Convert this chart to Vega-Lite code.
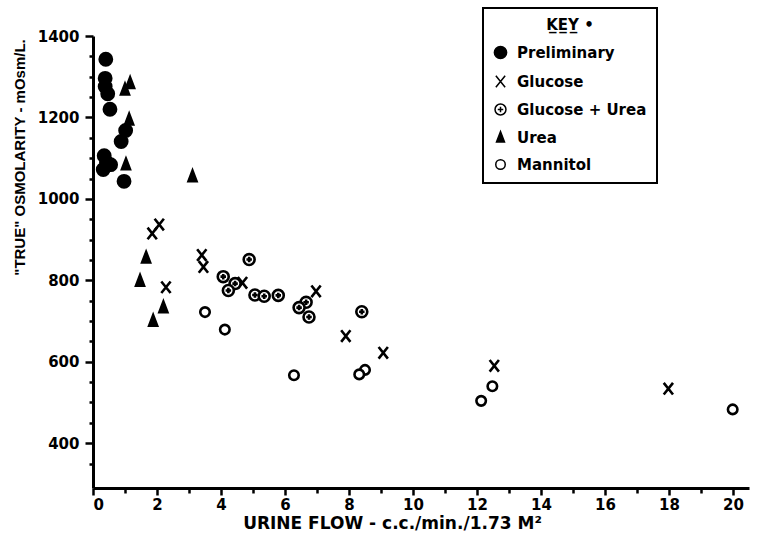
{
  "$schema": "https://vega.github.io/schema/vega-lite/v6.json",
  "width": 656,
  "height": 452,
  "autosize": "none",
  "padding": {"left": 93, "top": 36, "right": 9, "bottom": 57},
  "background": "white",
  "data": {
    "values": [
      {"series": "Preliminary", "flow": 0.40, "osm": 1343},
      {"series": "Preliminary", "flow": 0.38, "osm": 1296},
      {"series": "Preliminary", "flow": 0.38, "osm": 1276},
      {"series": "Preliminary", "flow": 0.46, "osm": 1258},
      {"series": "Preliminary", "flow": 0.53, "osm": 1220},
      {"series": "Preliminary", "flow": 0.88, "osm": 1141},
      {"series": "Preliminary", "flow": 1.02, "osm": 1168},
      {"series": "Preliminary", "flow": 0.35, "osm": 1106},
      {"series": "Preliminary", "flow": 0.32, "osm": 1072},
      {"series": "Preliminary", "flow": 0.55, "osm": 1084},
      {"series": "Preliminary", "flow": 0.42, "osm": 1090},
      {"series": "Preliminary", "flow": 0.97, "osm": 1043},
      {"series": "Glucose", "flow": 2.07, "osm": 937},
      {"series": "Glucose", "flow": 1.85, "osm": 915},
      {"series": "Glucose", "flow": 2.28, "osm": 783},
      {"series": "Glucose", "flow": 3.40, "osm": 862},
      {"series": "Glucose", "flow": 3.45, "osm": 833},
      {"series": "Glucose", "flow": 4.67, "osm": 794},
      {"series": "Glucose", "flow": 6.97, "osm": 773},
      {"series": "Glucose", "flow": 7.90, "osm": 663},
      {"series": "Glucose", "flow": 9.07, "osm": 622},
      {"series": "Glucose", "flow": 12.54, "osm": 590},
      {"series": "Glucose", "flow": 17.98, "osm": 534},
      {"series": "Glucose + Urea", "flow": 4.88, "osm": 851},
      {"series": "Glucose + Urea", "flow": 4.07, "osm": 809},
      {"series": "Glucose + Urea", "flow": 4.44, "osm": 792},
      {"series": "Glucose + Urea", "flow": 4.23, "osm": 775},
      {"series": "Glucose + Urea", "flow": 5.06, "osm": 764},
      {"series": "Glucose + Urea", "flow": 5.35, "osm": 761},
      {"series": "Glucose + Urea", "flow": 5.79, "osm": 763},
      {"series": "Glucose + Urea", "flow": 6.66, "osm": 746},
      {"series": "Glucose + Urea", "flow": 6.44, "osm": 733},
      {"series": "Glucose + Urea", "flow": 6.75, "osm": 710},
      {"series": "Glucose + Urea", "flow": 8.40, "osm": 723},
      {"series": "Urea", "flow": 1.16, "osm": 1284},
      {"series": "Urea", "flow": 1.00, "osm": 1268},
      {"series": "Urea", "flow": 1.13, "osm": 1194},
      {"series": "Urea", "flow": 1.03, "osm": 1084},
      {"series": "Urea", "flow": 3.11, "osm": 1055},
      {"series": "Urea", "flow": 1.66, "osm": 855},
      {"series": "Urea", "flow": 1.47, "osm": 798},
      {"series": "Urea", "flow": 2.20, "osm": 733},
      {"series": "Urea", "flow": 1.88, "osm": 700},
      {"series": "Mannitol", "flow": 3.50, "osm": 722},
      {"series": "Mannitol", "flow": 4.12, "osm": 679},
      {"series": "Mannitol", "flow": 6.28, "osm": 567},
      {"series": "Mannitol", "flow": 8.50, "osm": 580},
      {"series": "Mannitol", "flow": 8.32, "osm": 569},
      {"series": "Mannitol", "flow": 12.48, "osm": 540},
      {"series": "Mannitol", "flow": 12.13, "osm": 504},
      {"series": "Mannitol", "flow": 19.99, "osm": 483}
    ]
  },
  "mark": {"type": "point", "filled": true, "stroke": "black", "strokeWidth": 2.6, "opacity": 1},
  "encoding": {
    "x": {
      "field": "flow", "type": "quantitative",
      "scale": {"domain": [0, 20.5], "nice": false, "zero": false},
      "axis": {
        "title": "URINE FLOW - c.c./min./1.73 M²",
        "titleX": 299,
        "titlePadding": 3,
        "titleFontSize": 17,
        "values": [0,1,2,3,4,5,6,7,8,9,10,11,12,13,14,15,16,17,18,19,20],
        "labelExpr": "datum.value % 2 == 0 ? datum.label : ''",
        "grid": false,
        "tickSize": {"condition": {"test": "datum.value % 2 == 0", "value": 7}, "value": 5},
        "labelPadding": 2
      }
    },
    "y": {
      "field": "osm", "type": "quantitative",
      "scale": {"domain": [290, 1400], "nice": false, "zero": false},
      "axis": {
        "title": "\"TRUE\" OSMOLARITY - mOsm/L.",
        "titleAnchor": "middle",
        "titleY": 121,
        "titlePadding": 10,
        "titleFont": "Liberation Sans",
        "titleFontSize": 15,
        "values": [350,400,450,500,550,600,650,700,750,800,850,900,950,1000,1050,1100,1150,1200,1250,1300,1350,1400],
        "labelExpr": "datum.value % 200 == 0 ? datum.label : ''",
        "format": "d",
        "grid": false,
        "tickSize": {"condition": {"test": "datum.value % 200 == 0", "value": 8}, "value": 4},
        "labelPadding": 6
      }
    },
    "shape": {
      "field": "series", "type": "nominal", "title": "K̲E̲Y̲ •",
      "scale": {
        "domain": ["Preliminary", "Glucose", "Glucose + Urea", "Urea", "Mannitol"],
        "range": [
          "circle",
          "M-0.8,-1L0.8,1M0.8,-1L-0.8,1",
          "M-1,0A1,1 0 1,0 1,0A1,1 0 1,0 -1,0ZM-0.5,0L0.5,0M0,-0.5L0,0.5",
          "M0,-1.15L0.78,0.9L-0.78,0.9Z",
          "circle"
        ]
      },
      "legend": {
        "encode": {
          "symbols": {
            "update": {
              "stroke": {"value": "black"},
              "strokeWidth": {"value": 2.4},
              "opacity": {"value": 1}
            }
          }
        }
      }
    },
    "fill": {
      "field": "series", "type": "nominal", "title": "K̲E̲Y̲ •",
      "scale": {
        "domain": ["Preliminary", "Glucose", "Glucose + Urea", "Urea", "Mannitol"],
        "range": ["black", "white", "white", "black", "white"]
      }
    },
    "size": {
      "field": "series", "type": "nominal", "title": "K̲E̲Y̲ •",
      "scale": {
        "domain": ["Preliminary", "Glucose", "Glucose + Urea", "Urea", "Mannitol"],
        "range": [150, 90, 130, 130, 95]
      }
    }
  },
  "config": {
    "view": {"stroke": null},
    "font": "DejaVu Sans",
    "axis": {
      "domainColor": "black",
      "domainWidth": 3,
      "tickColor": "black",
      "tickWidth": 2.5,
      "labelFont": "DejaVu Sans",
      "labelFontSize": 15,
      "labelFontWeight": "bold",
      "labelColor": "black",
      "titleFont": "DejaVu Sans",
      "titleFontSize": 15,
      "titleFontWeight": "bold",
      "titleColor": "black"
    },
    "legend": {
      "orient": "none",
      "legendX": 390,
      "legendY": -28,
      "direction": "vertical",
      "strokeColor": "black",
      "strokeWidth": 2,
      "fillColor": "white",
      "padding": 10,
      "titleFont": "DejaVu Sans",
      "titleFontSize": 15,
      "titleFontWeight": "bold",
      "titleColor": "black",
      "titleAnchor": "middle",
      "titlePadding": 12,
      "labelFont": "DejaVu Sans",
      "labelFontSize": 15,
      "labelFontWeight": "bold",
      "labelColor": "black",
      "labelOffset": 9,
      "rowPadding": 10,
      "symbolOpacity": 1,
      "labelLimit": 300
    }
  }
}
